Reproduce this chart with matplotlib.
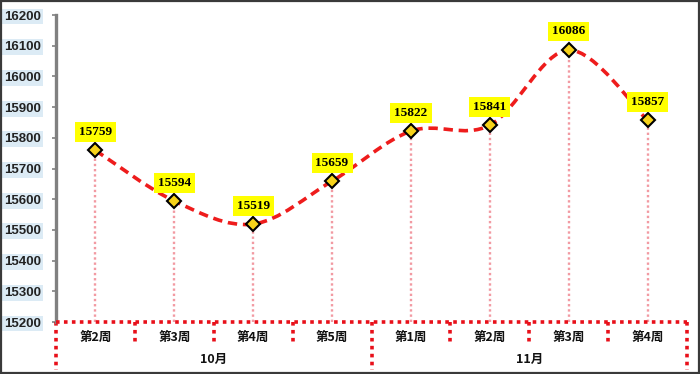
import matplotlib.pyplot as plt
from matplotlib.path import Path
from matplotlib.patches import PathPatch, Rectangle
import matplotlib.transforms as mtransforms

plt.rcParams["font.family"] = ["Noto Sans CJK SC", "DejaVu Sans"]

weeks = ["第2周", "第3周", "第4周", "第5周", "第1周", "第2周", "第3周", "第4周"]
months = ["10月", "11月"]
month_spans = [(0, 3), (4, 7)]
values = [15759, 15594, 15519, 15659, 15822, 15841, 16086, 15857]
y_ticks = list(range(15200, 16201, 100))

fig = plt.figure(figsize=(7.0, 3.74), dpi=100)
fig.patch.set_facecolor("white")
ax = fig.add_axes([56 / 700, 1 - 322 / 374, 631 / 700, 307 / 374])
ax.set_xlim(-0.5, len(values) - 0.5)
ax.set_ylim(15200, 16200)

# figure border
fig.add_artist(Rectangle((0.002, 0.003), 0.996, 0.994, transform=fig.transFigure,
                         fill=False, edgecolor="#3a3a3a", linewidth=1.6))

# smoothed curve (Excel style bezier)
xs = list(range(len(values)))
pts = list(zip(xs, values))
verts = [pts[0]]
codes = [Path.MOVETO]
for i in range(len(pts) - 1):
    p0 = pts[i - 1] if i > 0 else pts[i]
    p1 = pts[i]
    p2 = pts[i + 1]
    p3 = pts[i + 2] if i + 2 < len(pts) else pts[i + 1]
    c1 = (p1[0] + (p2[0] - p0[0]) / 6, p1[1] + (p2[1] - p0[1]) / 6)
    c2 = (p2[0] - (p3[0] - p1[0]) / 6, p2[1] - (p3[1] - p1[1]) / 6)
    verts += [c1, c2, p2]
    codes += [Path.CURVE4] * 3
ax.add_patch(PathPatch(Path(verts, codes), fill=False, edgecolor="#ee1c1c",
                       linewidth=2.6, linestyle=(0, (2.6, 1.6)), zorder=3))

# drop lines
ax.vlines(xs, 15200, values, colors="#f29aa2", linestyles=(0, (1, 1.2)), linewidth=1.7, zorder=1)

ax.plot(xs, values, linestyle="none", marker="D", markersize=7.5,
        markerfacecolor="#f7d31a", markeredgecolor="black", markeredgewidth=1.5, zorder=4)

for x, v in zip(xs, values):
    ax.annotate(str(v), (x, v), xytext=(0, 9), textcoords="offset points",
                ha="center", va="bottom", fontsize=9.5, fontweight="bold",
                family=["Liberation Serif", "DejaVu Serif"],
                bbox=dict(boxstyle="square,pad=0.3", facecolor="#ffff00", edgecolor="none"),
                zorder=5)

# axes styling
for s in ["top", "right", "bottom"]:
    ax.spines[s].set_visible(False)
ax.spines["left"].set_color("#808080")
ax.spines["left"].set_linewidth(2.4)
ax.spines["left"].set_linestyle((0, (1, 1)))
ax.set_yticks(y_ticks)
ax.set_yticklabels([str(t) for t in y_ticks], fontsize=9.5, fontweight="bold",
                   family=["Liberation Sans", "DejaVu Sans"], color="#222222")
for lbl in ax.get_yticklabels():
    lbl.set_bbox(dict(boxstyle="square,pad=0.15", facecolor="#dcebf5", edgecolor="none"))
ax.tick_params(axis="y", length=3, color="#808080", width=1.2, pad=8)
ax.set_xticks([])

# category axis with red dotted frame
trans = mtransforms.blended_transform_factory(ax.transData, ax.transAxes)
red = "#e8101a"
ax.plot([-0.5, len(values) - 0.5], [0, 0], color=red, linewidth=2.6,
        linestyle=(0, (1, 1.2)), transform=trans, clip_on=False, zorder=6)
for i in range(len(values) + 1):
    edge = i - 0.5
    is_month = i in (0, 4, len(values))
    bottom = -0.155 if is_month else -0.075
    ax.plot([edge, edge], [0, bottom], color=red, linewidth=2.6,
            linestyle=(0, (1, 1.2)), transform=trans, clip_on=False)
for i, w in enumerate(weeks):
    ax.text(i, -0.05, w, transform=trans, ha="center", va="center",
            fontsize=9, fontweight="bold", color="#111111")
for m, (a, b) in zip(months, month_spans):
    ax.text((a + b) / 2, -0.122, m, transform=trans, ha="center", va="center",
            fontsize=9, fontweight="bold", color="#111111")

fig.savefig("out.png", dpi=100, facecolor="white")
